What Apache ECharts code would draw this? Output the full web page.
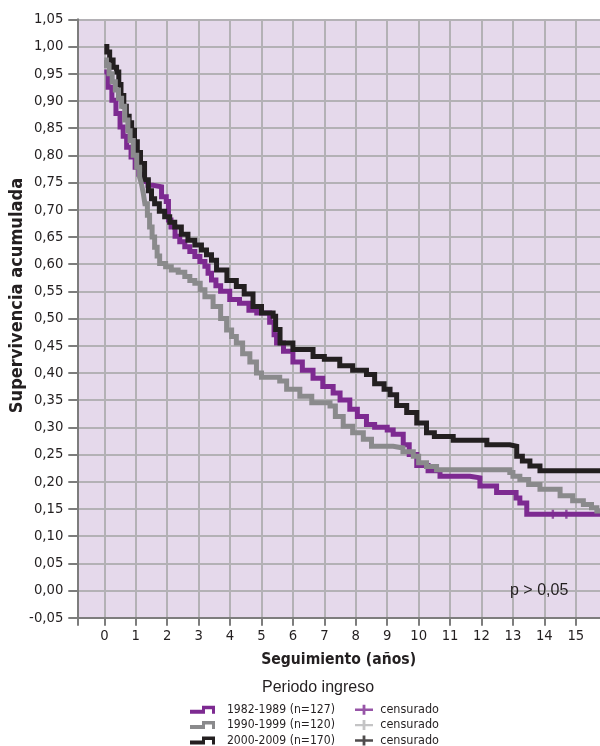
<!DOCTYPE html>
<html>
<head>
<meta charset="utf-8">
<script src="https://cdn.jsdelivr.net/npm/echarts@6/dist/echarts.min.js"></script>
<style>
html,body{margin:0;padding:0;background:#ffffff;}
#chart{width:600px;height:746px;}
</style>
</head>
<body>
<div id="chart"></div>
<script>
// ---- Data ----
const seriesNames = ['1982-1989 (n=127)', '1990-1999 (n=120)', '2000-2009 (n=170)'];
const censoredNames = ['censurado 1', 'censurado 2', 'censurado 3'];
const xTickYears = [0,1,2,3,4,5,6,7,8,9,10,11,12,13,14,15];

// 1982-1989 : time (years) and cumulative survival
const p1Times = [0,0.12,0.24,0.37,0.5,0.6,0.71,0.85,0.98,1.1,1.25,1.39,1.55,1.82,1.97,2.04,2.12,2.25,2.4,2.56,2.72,2.88,3.04,3.2,3.3,3.41,3.55,3.7,3.99,4.3,4.6,4.85,5.26,5.4,5.48,5.7,6.0,6.3,6.64,6.95,7.28,7.5,7.81,8.05,8.34,8.6,9.0,9.19,9.51,9.7,9.94,10.3,10.68,11.63,11.95,12.48,13.1,13.22,13.44,15.77];
const p1Surv  = [0.953,0.925,0.901,0.877,0.852,0.835,0.815,0.797,0.778,0.765,0.752,0.745,0.742,0.724,0.715,0.681,0.668,0.651,0.641,0.632,0.623,0.614,0.605,0.596,0.583,0.571,0.56,0.55,0.535,0.528,0.515,0.51,0.493,0.47,0.455,0.44,0.42,0.405,0.39,0.375,0.363,0.35,0.333,0.32,0.305,0.30,0.295,0.287,0.268,0.25,0.23,0.22,0.21,0.207,0.192,0.18,0.17,0.161,0.14,0.14];

// 1990-1999
const p2Times = [0,0.07,0.15,0.25,0.35,0.45,0.55,0.65,0.75,0.82,0.92,1.03,1.12,1.18,1.24,1.29,1.37,1.44,1.52,1.6,1.68,1.76,1.95,2.13,2.35,2.56,2.72,2.88,3.05,3.2,3.46,3.7,3.89,4.05,4.2,4.4,4.63,4.84,5.0,5.58,5.8,6.22,6.6,7.18,7.35,7.6,7.9,8.24,8.5,9.19,9.5,9.83,10.0,10.25,10.57,12.9,13.0,13.22,13.5,13.86,14.5,14.9,15.24,15.5,15.67,15.77];
const p2Surv  = [0.975,0.965,0.95,0.935,0.92,0.905,0.89,0.865,0.845,0.827,0.80,0.778,0.76,0.748,0.73,0.711,0.69,0.668,0.65,0.631,0.615,0.601,0.595,0.589,0.585,0.577,0.57,0.565,0.553,0.54,0.522,0.50,0.479,0.467,0.455,0.435,0.42,0.40,0.392,0.385,0.37,0.357,0.345,0.339,0.32,0.302,0.29,0.278,0.265,0.262,0.255,0.247,0.235,0.228,0.222,0.217,0.21,0.204,0.195,0.186,0.174,0.165,0.158,0.152,0.146,0.146];

// 2000-2009
const p3Times = [0,0.08,0.17,0.28,0.39,0.46,0.53,0.62,0.7,0.79,0.87,0.96,1.05,1.15,1.28,1.4,1.5,1.6,1.75,1.92,2.08,2.24,2.45,2.66,2.88,3.09,3.25,3.41,3.57,3.9,4.2,4.45,4.73,5.0,5.37,5.45,5.59,6.0,6.64,7.0,7.49,7.9,8.34,8.6,8.9,9.09,9.3,9.62,9.94,10.25,10.5,11.1,12.17,12.9,13.12,13.3,13.54,13.86,15.77];
const p3Surv  = [1.0,0.99,0.975,0.962,0.953,0.93,0.91,0.89,0.872,0.86,0.846,0.825,0.805,0.785,0.755,0.735,0.72,0.711,0.697,0.687,0.677,0.668,0.655,0.644,0.635,0.626,0.617,0.607,0.589,0.57,0.559,0.545,0.522,0.51,0.504,0.48,0.455,0.443,0.43,0.425,0.413,0.405,0.397,0.38,0.37,0.36,0.34,0.327,0.308,0.29,0.283,0.276,0.268,0.265,0.247,0.238,0.229,0.22,0.216];

// censored marks visible on the curves
const c1Times = [14.27, 14.7];
const c1Surv  = [0.14, 0.14];
const c2Times = [];
const c2Surv  = [];
const c3Times = [];
const c3Surv  = [];

// ---- Font selection (narrow face if the machine has one) ----
const ctx2 = document.createElement('canvas').getContext('2d');
function measure(font, s) { ctx2.font = font; return ctx2.measureText(s).width; }
const sample = '1,05 abcdefghijklmnopqrstuvwxyz';
let narrowFam, narrowStretch = 'normal', sizeK = 1;
if (measure("16px 'Liberation Sans Narrow', monospace", sample) !== measure('16px monospace', sample)) {
  narrowFam = "'Liberation Sans Narrow'";
} else if (measure("normal condensed 16px 'DejaVu Sans'", sample) < measure("16px 'DejaVu Sans'", sample) - 2) {
  narrowFam = "'DejaVu Sans'"; narrowStretch = 'normal condensed'; sizeK = 0.92;
} else {
  narrowFam = "'Liberation Sans'"; sizeK = 0.86;
}
const fs = v => Math.round(v * sizeK * 10) / 10;
const regular = "'Liberation Sans','DejaVu Sans',sans-serif";

// ---- Styles ----
const colors = ['#7d2a91', '#8a8a8c', '#231f20'];
const censColors = ['#7d2a91', '#b5b5b7', '#231f20'];

const zip = (a, b) => a.map((t, i) => [t, b[i]]);

const stepIcon = 'path://M0,4 L12,4 L12,0 L25,0 L25,8 L22,8 L22,3.5 L15,3.5 L15,8 L0,8 Z';
const plusIcon = 'path://M0,3.8 L7.6,3.8 L7.6,0 L10.4,0 L10.4,3.8 L18,3.8 L18,6.2 L10.4,6.2 L10.4,10 L7.6,10 L7.6,6.2 L0,6.2 Z';
const plusMark = 'path://M0,3.8 L3.8,3.8 L3.8,0 L6.2,0 L6.2,3.8 L10,3.8 L10,6.2 L6.2,6.2 L6.2,10 L3.8,10 L3.8,6.2 L0,6.2 Z';

const xMin = -0.86, xMax = 15.77;

const lineSeries = (idx, times, surv) => ({
  name: seriesNames[idx],
  type: 'line',
  step: 'end',
  data: zip(times, surv),
  showSymbol: false,
  symbol: 'none',
  lineStyle: { color: colors[idx], width: 5, join: 'miter' },
  itemStyle: { color: colors[idx] },
  clip: true
});
const censSeries = (idx, times, surv) => ({
  name: censoredNames[idx],
  type: 'scatter',
  data: zip(times, surv),
  symbol: plusMark,
  symbolSize: [10, 9],
  itemStyle: { color: censColors[idx] },
  z: 3
});

const narrowText = (size, extra) => Object.assign({ fontFamily: narrowFam, fontStyle: narrowStretch, fontSize: fs(size), color: '#231f20' }, extra || {});

const chart = echarts.init(document.getElementById('chart'), null, { renderer: 'canvas' });
chart.setOption({
  animation: false,
  backgroundColor: '#ffffff',
  grid: { left: 77.3, right: 0, top: 19.3, bottom: 128.3, containLabel: false, outerBoundsMode: 'none', show: true, backgroundColor: '#e5d9eb', borderWidth: 0 },
  xAxis: {
    type: 'value',
    min: xMin,
    max: xMax,
    name: 'Seguimiento (años)',
    nameLocation: 'middle',
    nameGap: 34,
    nameTextStyle: narrowText(17, { fontWeight: 'bold', verticalAlign: 'top' }),
    axisLine: { show: true, onZero: false, lineStyle: { color: '#7d7d7d', width: 2 } },
    axisTick: { show: true, length: 8, customValues: [xMin].concat(xTickYears), lineStyle: { color: '#7d7d7d', width: 2 } },
    axisLabel: Object.assign(narrowText(16), { customValues: xTickYears, margin: 11, formatter: v => String(Math.round(v)) }),
    splitLine: { show: true, lineStyle: { color: '#b3b1b5', width: 2 } }
  },
  yAxis: {
    type: 'value',
    min: -0.05,
    max: 1.05,
    interval: 0.05,
    axisLine: { show: true, onZero: false, lineStyle: { color: '#7d7d7d', width: 2 } },
    axisTick: { show: true, length: 9, lineStyle: { color: '#7d7d7d', width: 2 } },
    axisLabel: Object.assign(narrowText(16), { margin: 14, formatter: v => v.toFixed(2).replace('.', ',') }),
    splitLine: { show: true, lineStyle: { color: '#b3b1b5', width: 2 } }
  },
  legend: [
    {
      orient: 'vertical',
      left: 190,
      top: 702,
      height: 60,
      padding: 0,
      itemGap: 0,
      itemWidth: 25,
      itemHeight: 8,
      symbolKeepAspect: false,
      data: seriesNames.map((n, i) => ({ name: n, icon: stepIcon, itemStyle: { color: colors[i], borderWidth: 0 } })),
      formatter: n => '  ' + n,
      textStyle: narrowText(13.2, { lineHeight: 15.4 }),
      selectedMode: false
    },
    {
      orient: 'vertical',
      left: 355,
      top: 702,
      height: 60,
      padding: 0,
      itemGap: 0,
      itemWidth: 18,
      itemHeight: 10,
      symbolKeepAspect: false,
      data: censoredNames.map((n, i) => ({ name: n, icon: plusIcon, itemStyle: { color: censColors[i], borderWidth: 0 } })),
      formatter: () => '\u2009censurado',
      textStyle: narrowText(13.6, { lineHeight: 15.4 }),
      selectedMode: false
    }
  ],
  graphic: [
    { type: 'text', z: 100, x: 17, y: 295.5, rotation: Math.PI / 2,
      style: { text: 'Supervivencia acumulada', font: narrowStretch + ' bold ' + fs(19.7) + 'px ' + narrowFam, fill: '#231f20', align: 'center', verticalAlign: 'middle' } },
    { type: 'text', z: 100, left: 262, top: 680, style: { text: 'Periodo ingreso', font: '16px ' + regular, fill: '#231f20' } },
    { type: 'text', z: 100, left: 510, top: 583, style: { text: 'p > 0,05', font: '16px ' + regular, fill: '#231f20' } }
  ],
  series: [
    lineSeries(0, p1Times, p1Surv),
    lineSeries(2, p3Times, p3Surv),
    lineSeries(1, p2Times, p2Surv),
    censSeries(0, c1Times, c1Surv),
    censSeries(1, c2Times, c2Surv),
    censSeries(2, c3Times, c3Surv)
  ]
});
</script>
</body>
</html>
